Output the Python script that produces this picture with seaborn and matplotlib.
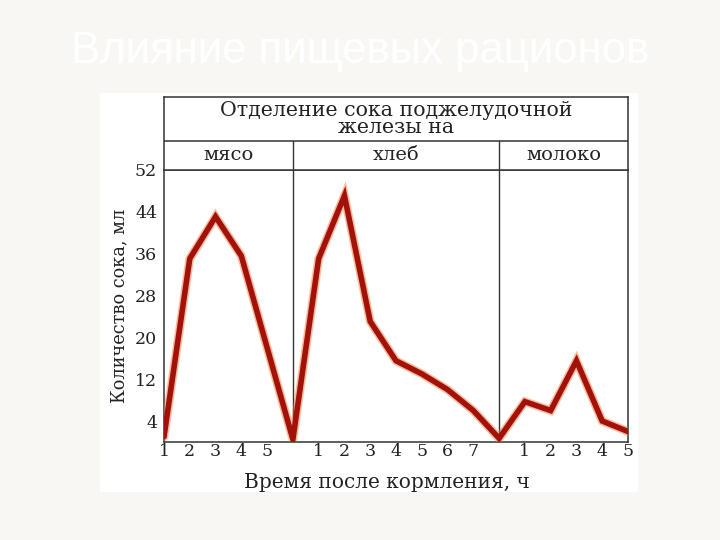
import numpy as np
import pandas as pd
import matplotlib
matplotlib.use("Agg")
import matplotlib.pyplot as plt
import matplotlib.patheffects as pe
from matplotlib.patches import Rectangle
import seaborn as sns

# ---- data ----
sections = ["мясо", "хлеб", "молоко"]
meat_vals = [1.0, 35.0, 43.0, 35.5, 18.0, 0.5]          # hours 1..6 (6 = boundary)
bread_vals = [35.0, 47.0, 23.0, 15.5, 13.0, 10.0, 6.0, 0.7]  # hours 1..8 (8 = boundary)
milk_vals = [7.7, 6.0, 15.5, 4.0, 2.0]                   # hours 1..5
meat_ticks = [1, 2, 3, 4, 5]
bread_ticks = [1, 2, 3, 4, 5, 6, 7]
milk_ticks = [1, 2, 3, 4, 5]
y_ticks = [4, 12, 20, 28, 36, 44, 52]
title = "Влияние пищевых рационов"
header = "Отделение сока поджелудочной\nжелезы на"
ylabel = "Количество сока, мл"
xlabel = "Время после кормления, ч"

# section offsets on a common hour axis
meat_off, bread_off, milk_off = -1, 5, 13
rows = []
for h, v in enumerate(meat_vals, start=1):
    rows.append((h + meat_off, v))
for h, v in enumerate(bread_vals, start=1):
    rows.append((h + bread_off, v))
for h, v in enumerate(milk_vals, start=1):
    rows.append((h + milk_off, v))
df = pd.DataFrame(rows, columns=["g", "val"]).drop_duplicates("g")

sns.set_theme(style="white")
plt.rcParams["font.family"] = ["DejaVu Serif", "Liberation Serif"]

W, H = 720, 540
fig = plt.figure(figsize=(7.2, 5.4), dpi=100)
fig.patch.set_facecolor("#f8f7f4")

# white "picture" area
fig.patches.append(Rectangle((100 / W, 1 - 492 / H), (638 - 100) / W, (492 - 93) / H,
                             transform=fig.transFigure, facecolor="white",
                             edgecolor="none", zorder=-10))

fig.text(0.5, 1 - 52 / H, title, ha="center", va="center", color="white",
         fontsize=31.5, family=["Liberation Sans", "DejaVu Sans"], zorder=1)

x0, x1 = 164, 628
ytop, ybot = 169.5, 442
ax = fig.add_axes([x0 / W, 1 - ybot / H, (x1 - x0) / W, (ybot - ytop) / H])
ax.set_zorder(2)
ax.set_facecolor("white")

sns.lineplot(data=df, x="g", y="val", sort=False, estimator=None, ax=ax,
             color="#a3120a", linewidth=4.0, solid_joinstyle="miter",
             path_effects=[pe.Stroke(linewidth=6.2, foreground="#f07a3a", alpha=0.5),
                           pe.Normal()], zorder=5)

ax.set_xlim(0, 18)
ax.set_ylim(0, 52)
for xv in (meat_off + 6, bread_off + 8):
    ax.axvline(xv, color="#333333", lw=1.0, zorder=2)

xt = [t + meat_off for t in meat_ticks] + [t + bread_off for t in bread_ticks] + \
     [t + milk_off for t in milk_ticks]
xl = [str(t) for t in meat_ticks + bread_ticks + milk_ticks]
ax.set_xticks(xt)
ax.set_xticklabels(xl)
ax.set_yticks(y_ticks)
ax.tick_params(axis="x", direction="in", length=6, width=1.4, color="#222222",
               labelsize=12.5, pad=1, labelcolor="#222222")
ax.tick_params(axis="y", direction="in", length=7, width=1.4, color="#222222",
               labelsize=12.5, pad=5, labelcolor="#222222")
for s in ax.spines.values():
    s.set_visible(True)
    s.set_color("#333333")
    s.set_linewidth(1.1)
ax.set_xlabel("")
ax.set_ylabel(ylabel, fontsize=12.8, color="#222222", labelpad=5)

fig.text(387 / W, 1 - 483 / H, xlabel, ha="center", va="center", fontsize=14.5,
         color="#222222", zorder=3)

# header box
htop, hmid = 97, 141
hax = fig.add_axes([x0 / W, 1 - ytop / H, (x1 - x0) / W, (ytop - htop) / H])
hax.set_zorder(2)
hax.set_xlim(0, 18)
hax.set_ylim(0, 1)
hax.set_xticks([])
hax.set_yticks([])
hax.set_facecolor("white")
for s in hax.spines.values():
    s.set_color("#333333")
    s.set_linewidth(1.1)
fr = (ytop - hmid) / (ytop - htop)
hax.axhline(fr, color="#333333", lw=1.1)
for xv in (meat_off + 6, bread_off + 8):
    hax.plot([xv, xv], [0, fr], color="#333333", lw=1.0)
hax.text(9, (1 + fr) / 2, header, ha="center", va="center", fontsize=14.8,
         color="#222222", linespacing=0.92)
centers = [(0 + 5) / 2, (5 + 13) / 2, (13 + 18) / 2]
for c, name in zip(centers, sections):
    hax.text(c, fr / 2, name, ha="center", va="center", fontsize=14,
             color="#222222")

fig.savefig("out.png", dpi=100, facecolor=fig.get_facecolor())
